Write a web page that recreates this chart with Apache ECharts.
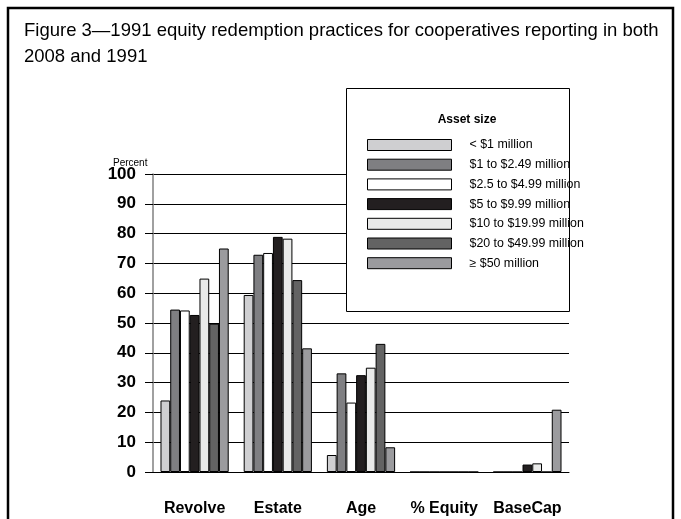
<!DOCTYPE html>
<html>
<head>
<meta charset="utf-8">
<script src="https://cdn.jsdelivr.net/npm/echarts@6/dist/echarts.min.js"></script>
<style>
  html, body { margin: 0; padding: 0; background: #fff; }
  #chart { width: 681px; height: 519px; }
</style>
</head>
<body>
<div id="chart"></div>
<script>
// categories along the x axis
const categories = ["Revolve", "Estate", "Age", "% Equity", "BaseCap"];
// asset size groups (legend)
const sizeNames = [
  "< $1 million",
  "$1 to $2.49 million",
  "$2.5 to $4.99 million",
  "$5 to $9.99 million",
  "$10 to $19.99 million",
  "$20 to $49.99 million",
  "\u2265 $50 million"
];
// percent values, one array per asset size
const lessThan1 = [24, 59.4, 5.7, 0, 0];
const from1to249 = [54.5, 72.9, 33.1, 0, 0];
const from25to499 = [54.2, 73.5, 23.3, 0, 0];
const from5to999 = [52.7, 78.9, 32.5, 0, 2.5];
const from10to1999 = [64.9, 78.3, 35, 0, 2.9];
const from20to4999 = [49.8, 64.4, 43, 0, 0];
const over50 = [75, 41.5, 8.3, 0, 20.9];
const yTicks = [0, 10, 20, 30, 40, 50, 60, 70, 80, 90, 100];

const seriesValues = [lessThan1, from1to249, from25to499, from5to999, from10to1999, from20to4999, over50];
const colors = ["#cfcfd1", "#7f7f82", "#ffffff", "#231f20", "#e9eae9", "#636363", "#9b9b9e"];

const font = "'Liberation Sans', Arial, sans-serif";

const myChart = echarts.init(document.getElementById("chart"));
const option = {
  animation: false,
  backgroundColor: "#fff",
  textStyle: { fontFamily: font },
  grid: { left: 153, right: 112, top: 174, bottom: 47 },
  xAxis: {
    type: "category",
    data: categories,
    axisLine: { lineStyle: { color: "#000", width: 1 } },
    axisTick: { length: 7, lineStyle: { color: "#000" } },
    axisLabel: {
      interval: 0,
      margin: 29,
      color: "#000",
      fontSize: 16,
      fontWeight: "bold",
      fontFamily: font
    }
  },
  yAxis: {
    type: "value",
    min: yTicks[0],
    max: yTicks[yTicks.length - 1],
    interval: 10,
    axisLine: { show: true, lineStyle: { color: "#808080", width: 1.5 } },
    axisTick: { show: true, length: 8, lineStyle: { color: "#000" } },
    splitLine: { lineStyle: { color: "#000", width: 1 } },
    axisLabel: {
      margin: 17,
      color: "#000",
      fontSize: 17,
      fontWeight: "bold",
      fontFamily: font
    }
  },
  legend: {
    orient: "vertical",
    left: 367,
    top: 139,
    padding: 0,
    itemWidth: 84,
    itemHeight: 11,
    itemGap: 7.7,
    icon: "rect",
    data: sizeNames,
    selectedMode: false,
    z: 20,
    itemStyle: { borderColor: "#000", borderWidth: 1 },
    textStyle: {
      fontSize: 12.4,
      color: "#000",
      fontFamily: font,
      padding: [0, 0, 0, 13]
    }
  },
  graphic: [
    {
      type: "rect",
      z: 10,
      shape: { x: 346.5, y: 88.5, width: 223, height: 223 },
      style: { fill: "#fff", stroke: "#000", lineWidth: 1 }
    },
    {
      type: "text",
      z: 20,
      style: {
        x: 467, y: 120, text: "Asset size",
        font: "bold 12px " + font, fill: "#000",
        textAlign: "center", textVerticalAlign: "middle"
      }
    },
    {
      type: "text",
      z: 20,
      style: {
        x: 24, y: 31,
        text: "Figure 3\u20141991 equity redemption practices for cooperatives reporting in both",
        font: "18.5px " + font, fill: "#000", textVerticalAlign: "middle"
      }
    },
    {
      type: "text",
      z: 20,
      style: {
        x: 24, y: 57, text: "2008 and 1991",
        font: "18.5px " + font, fill: "#000", textVerticalAlign: "middle"
      }
    },
    {
      type: "text",
      z: 20,
      style: {
        x: 113, y: 163, text: "Percent",
        font: "10px " + font, fill: "#000", textVerticalAlign: "middle"
      }
    },
    {
      type: "rect",
      z: 30,
      shape: { x: 8, y: 8, width: 665, height: 530 },
      style: { fill: "none", stroke: "#000", lineWidth: 2.5 }
    }
  ],
  series: seriesValues.map(function (vals, i) {
    return {
      name: sizeNames[i],
      type: "bar",
      data: vals,
      barGap: 0,
      barCategoryGap: "18%",
      itemStyle: { color: colors[i], borderColor: "#000", borderWidth: 1 }
    };
  })
};
myChart.setOption(option);
window.onresize = myChart.resize;
</script>
</body>
</html>
